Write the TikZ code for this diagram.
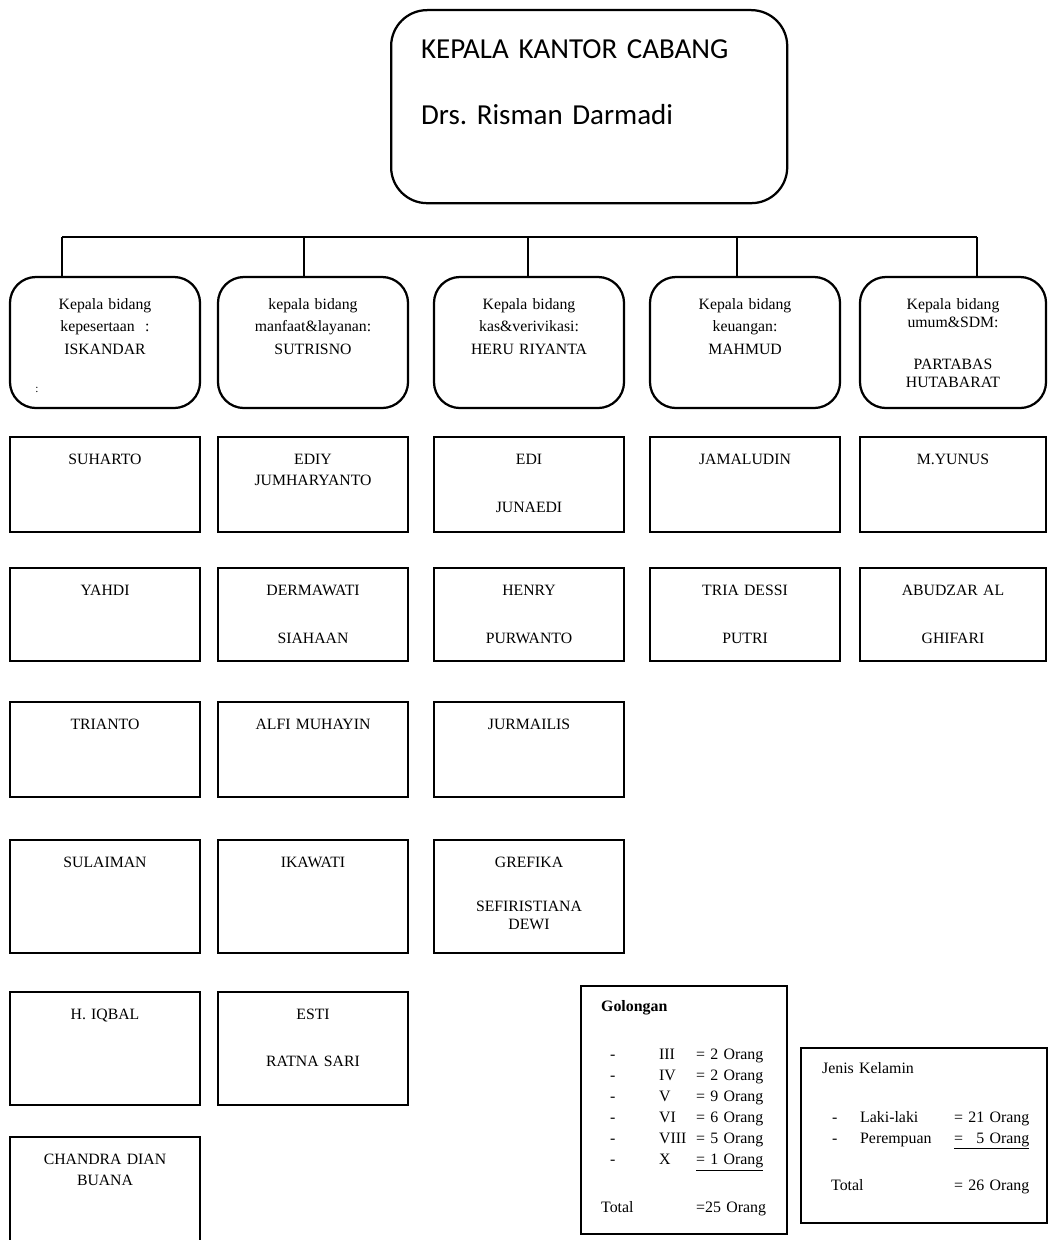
\documentclass[tikz,border=0pt]{standalone}
\usepackage{fontspec}
\setmainfont{Liberation Serif}
\newfontfamily\calibri{Carlito}
\usepackage{tikz}
\usetikzlibrary{positioning}
\tikzstyle{kepala} = [rectangle, rounded corners=0.9cm, draw=black, line width=1.6pt, text width=8.4cm, align=left, inner xsep=0.75cm, inner ysep=0pt, text height=1.2cm, text depth=3.625cm, font=\calibri\fontsize{20.6}{47}\selectfont]
\tikzstyle{kabid} = [rectangle, rounded corners=0.65cm, draw=black, line width=1.6pt, outer sep=0pt, minimum width=4.75cm, text width=4.5cm, align=center, inner sep=0pt, text height=0.8cm, text depth=2.475cm, font=\fontsize{11.2}{16}\selectfont]
\tikzstyle{staff} = [rectangle, draw=black, line width=1.6pt, outer sep=0pt, minimum width=4.75cm, text width=4.5cm, align=center, inner sep=0pt, text height=0.675cm, text depth=1.7cm, font=\fontsize{11.2}{14.9}\selectfont]
\tikzstyle{stafftall} = [staff, text depth=2.15cm]
\tikzstyle{rekap} = [rectangle, draw=black, line width=1.6pt, align=left, inner ysep=0pt, text height=0.625cm, font=\fontsize{11.3}{15}\selectfont]
\tikzstyle{line} = [line width=1.6pt]

\begin{document}
\begin{tikzpicture}[x=0.025cm, y=-0.025cm]
        \useasboundingbox (0,0) rectangle (1047,1240);

        % Pimpinan
        \node (kakancab) [kepala, anchor=north west] at (390,9) {KEPALA KANTOR CABANG\\ Drs.\ Risman Darmadi};

        % Kepala bidang
        \node (kepesertaan) [kabid, anchor=north] at (105,277) {Kepala bidang\\ kepesertaan\ \ :\\ ISKANDAR};
        \node (manfaat) [kabid, anchor=north] at (313,277) {kepala bidang\\ manfaat\&layanan:\\ SUTRISNO};
        \node (kas) [kabid, anchor=north] at (529,277) {Kepala bidang\\ kas\&verivikasi:\\ HERU RIYANTA};
        \node (keuangan) [kabid, anchor=north] at (745,277) {Kepala bidang\\ keuangan:\\ MAHMUD};
        \node (umum) [kabid, anchor=north, minimum width=4.65cm, font=\fontsize{11.2}{12.8}\selectfont] at (953,277) {Kepala bidang\\ umum\&SDM:\\[0.6cm] PARTABAS\\ HUTABARAT};
        \node (titik) at (37,390) {\fontsize{8}{9}\selectfont :};

        % Garis
        \coordinate (bus1) at (62,237);
        \coordinate (bus2) at (304,237);
        \coordinate (bus3) at (528,237);
        \coordinate (bus4) at (737,237);
        \coordinate (bus5) at (977,237);
        \draw [line] (bus1) -- (bus5);
        \draw [line] (bus1) -- (bus1 |- kepesertaan.north);
        \draw [line] (bus2) -- (bus2 |- manfaat.north);
        \draw [line] (bus3) -- (bus3 |- kas.north);
        \draw [line] (bus4) -- (bus4 |- keuangan.north);
        \draw [line] (bus5) -- (bus5 |- umum.north);

        % Staf kepesertaan
        \node (suharto) [staff, below=0.725cm of kepesertaan] {SUHARTO};
        \node (yahdi) [staff, text depth=1.65cm, below=0.9cm of suharto] {YAHDI};
        \node (trianto) [staff, below=1.025cm of yahdi] {TRIANTO};
        \node (sulaiman) [stafftall, below=1.075cm of trianto] {SULAIMAN};
        \node (iqbal) [stafftall, below=0.975cm of sulaiman] {H. IQBAL};
        \node (chandra) [stafftall, below=0.8cm of iqbal] {CHANDRA DIAN\\ BUANA};

        % Staf manfaat & layanan
        \node (ediy) [staff, below=0.725cm of manfaat] {EDIY\\ JUMHARYANTO};
        \node (dermawati) [staff, text depth=1.65cm, below=0.9cm of ediy] {DERMAWATI\\[0.675cm] SIAHAAN};
        \node (alfi) [staff, below=1.025cm of dermawati] {ALFI MUHAYIN};
        \node (ikawati) [stafftall, below=1.075cm of alfi] {IKAWATI};
        \node (esti) [stafftall, below=0.975cm of ikawati] {ESTI\\[0.65cm] RATNA SARI};

        % Staf kas & verifikasi
        \node (edi) [staff, below=0.725cm of kas] {EDI\\[0.675cm] JUNAEDI};
        \node (henry) [staff, text depth=1.65cm, below=0.9cm of edi] {HENRY\\[0.675cm] PURWANTO};
        \node (jurmailis) [staff, below=1.025cm of henry] {JURMAILIS};
        \node (grefika) [stafftall, below=1.075cm of jurmailis] {GREFIKA\\[0.575cm] SEFIRISTIANA\\[-0.075cm] DEWI};

        % Staf keuangan
        \node (jamaludin) [staff, below=0.725cm of keuangan] {JAMALUDIN};
        \node (tria) [staff, text depth=1.65cm, below=0.9cm of jamaludin] {TRIA DESSI\\[0.675cm] PUTRI};

        % Staf umum & SDM
        \node (yunus) [staff, minimum width=4.65cm, below=0.725cm of umum] {M.YUNUS};
        \node (abudzar) [staff, text depth=1.65cm, minimum width=4.65cm, below=0.9cm of yunus] {ABUDZAR AL\\[0.675cm] GHIFARI};

        % Rekap
        \node (golongan) [rekap, anchor=north west, text width=4.15cm, inner xsep=0.5cm, text depth=5.575cm] at (580,985) {%
            \begin{tabular}[t]{@{}p{1.45cm}@{}p{0.925cm}@{}l@{}}
            \multicolumn{3}{@{}l@{}}{\textbf{Golongan}}\\[0.675cm]
            \hspace*{0.225cm}- & III & = 2 Orang\\
            \hspace*{0.225cm}- & IV & = 2 Orang\\
            \hspace*{0.225cm}- & V & = 9 Orang\\
            \hspace*{0.225cm}- & VI & = 6 Orang\\
            \hspace*{0.225cm}- & VIII & = 5 Orang\\
            \hspace*{0.225cm}- & X & \underline{= 1 Orang}\\[0.675cm]
            Total & & =25 Orang
            \end{tabular}};
        \node (kelamin) [rekap, anchor=north west, text width=5.1cm, inner xsep=0.525cm, text depth=3.75cm] at (800,1047) {%
            \begin{tabular}[t]{@{}p{0.95cm}@{}p{2.35cm}@{}l@{}}
            \multicolumn{3}{@{}l@{}}{Jenis Kelamin}\\[0.7cm]
            \hspace*{0.25cm}- & Laki-laki & = 21 Orang\\
            \hspace*{0.25cm}- & Perempuan & \underline{= \hphantom{2}5 Orang}\\[0.65cm]
            \multicolumn{2}{@{}l@{}}{\hspace*{0.225cm}Total} & = 26 Orang
            \end{tabular}};

    \end{tikzpicture}
\end{document}
